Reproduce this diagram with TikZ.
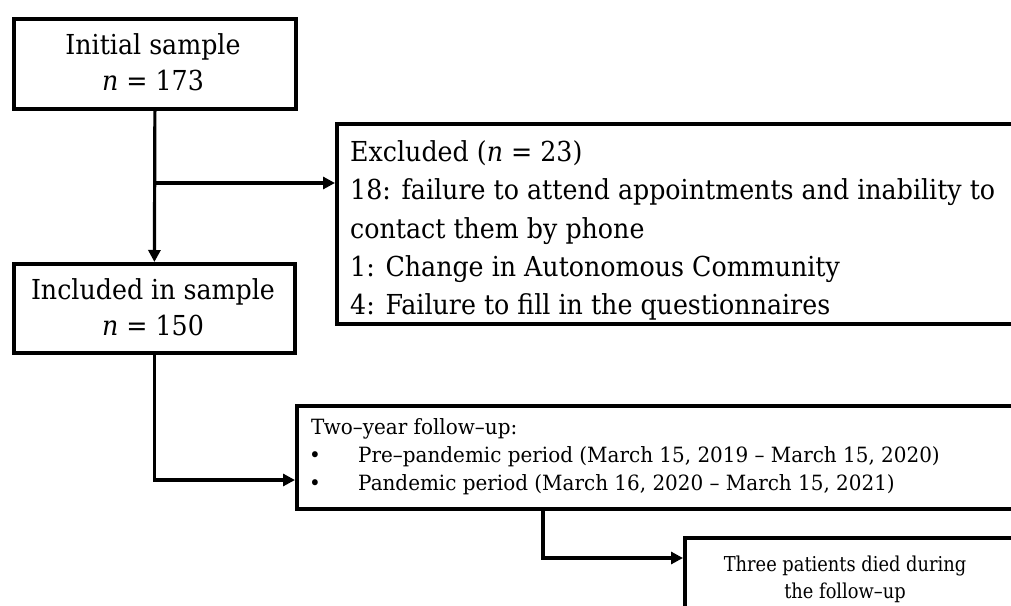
\documentclass[tikz,border=0pt]{standalone}
\usepackage{fontspec}
\setmainfont{DejaVu Serif}
\newfontfamily\bigf[FakeStretch=0.92]{DejaVu Serif}
\newfontfamily\smallf[FakeStretch=0.95]{DejaVu Serif}
\newfontfamily\smallerf[FakeStretch=0.87]{DejaVu Serif}
\usetikzlibrary{arrows.meta,calc}
\begin{document}
\begin{tikzpicture}[x=1pt,y=-1pt,
  box/.style={draw,line width=3.8pt,inner sep=0pt,anchor=north west},
  arr/.style={line width=3.2pt,-{Triangle[length=12pt,width=12pt]}},
  big/.style={font=\bigf\fontsize{27.5}{36}\selectfont,inner sep=0pt},
  small/.style={font=\smallf\fontsize{21}{28}\selectfont,inner sep=0pt},
  smaller/.style={font=\smallerf\fontsize{20.5}{27}\selectfont,inner sep=0pt}]
\useasboundingbox (0,0) rectangle (1011,605);
\clip (0,0) rectangle (1011,605);
% boxes
\node[box,minimum width=282pt,minimum height=90pt] (b1) at (12,17) {};
\node[box,minimum width=281pt,minimum height=89pt] (b2) at (12,262) {};
\node[box,minimum width=720pt,minimum height=200pt] (ex) at (335,122) {};
\node[box,minimum width=740pt,minimum height=103pt] (fu) at (295,404) {};
\node[box,minimum width=400pt,minimum height=100pt] (th) at (683,536) {};
% texts
\node[big,anchor=base] (t1a) at (153,54) {Initial sample};
\node[big,anchor=base] (t1b) at (153,90) {\textit{n} = 173};
\node[big,anchor=base] (t2a) at (153,299) {Included in sample};
\node[big,anchor=base] (t2b) at (153,335) {\textit{n} = 150};
\node[big,anchor=base west] (e1) at (350,161) {Excluded (\textit{n} = 23)};
\node[big,anchor=base west] (e2) at (350,199) {18: failure to attend appointments and inability to};
\node[big,anchor=base west] (e3) at (350,238) {contact them by phone};
\node[big,anchor=base west] (e4) at (350,276) {1: Change in Autonomous Community};
\node[big,anchor=base west] (e5) at (350,314) {4: Failure to fill in the questionnaires};
\node[small,anchor=base west] (f1) at (311,434) {Two–year follow–up:};
\node[small,anchor=base west] (fb1) at (309,462) {•};
\node[small,anchor=base west] (f2) at (358,462) {Pre–pandemic period (March 15, 2019 – March 15, 2020)};
\node[small,anchor=base west] (fb2) at (309,490) {•};
\node[small,anchor=base west] (f3) at (358,490) {Pandemic period (March 16, 2020 – March 15, 2021)};
\node[smaller,anchor=base] (h1) at (845,571) {Three patients died during};
\node[smaller,anchor=base] (h2) at (845,598) {the follow–up};
% connectors
\coordinate (j1) at (153,183);
\coordinate (y480) at (0,480);
\coordinate (x543) at (543,0);
\coordinate (y558) at (0,558);
\draw[arr] (b1.south) -- (b2.north);
\draw[arr] (j1) -- (j1 -| ex.west);
\draw[arr] (b2.south) |- (fu.west |- y480);
\draw[arr] (fu.south -| x543) |- (th.west |- y558);
\end{tikzpicture}
\end{document}
